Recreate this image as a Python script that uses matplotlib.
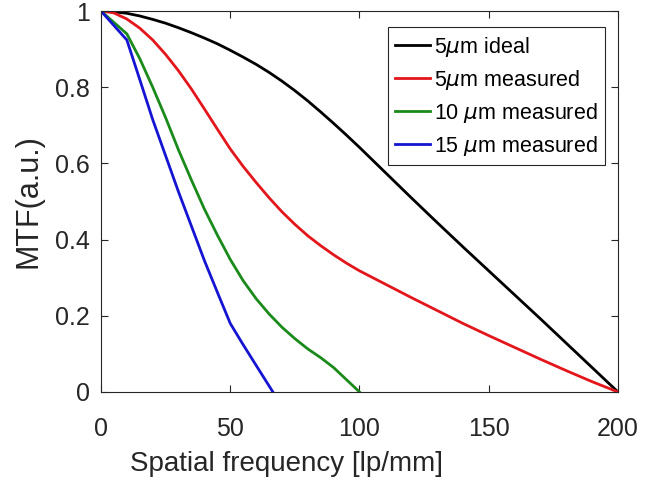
import numpy as np
import matplotlib
matplotlib.use("Agg")
import matplotlib.pyplot as plt

# spatial frequency (lp/mm) and MTF values
freq_ideal = [0, 5, 10, 15, 20, 25, 30, 35, 40, 45, 50, 55, 60, 65, 70, 75,
              80, 85, 90, 95, 100, 110, 120, 130, 140, 150, 160, 170, 180,
              190, 200]
mtf_ideal = [1.0, 0.998, 0.994, 0.987, 0.978, 0.968, 0.956, 0.943, 0.929,
             0.914, 0.897, 0.879, 0.86, 0.839, 0.816, 0.791, 0.764, 0.735,
             0.705, 0.674, 0.642, 0.576, 0.51, 0.445, 0.381, 0.318, 0.255,
             0.192, 0.128, 0.064, 0.0]

freq_5 = [0, 5, 10, 15, 20, 25, 30, 35, 40, 45, 50, 55, 60, 65, 70, 75,
          80, 85, 90, 95, 100, 110, 120, 130, 140, 150, 160, 170, 180, 190, 200]
mtf_5 = [1.0, 0.995, 0.979, 0.955, 0.924, 0.886, 0.843, 0.795, 0.743, 0.69,
         0.638, 0.592, 0.55, 0.51, 0.473, 0.44, 0.41, 0.384, 0.36, 0.338,
         0.318, 0.283, 0.248, 0.214, 0.18, 0.148, 0.117, 0.086, 0.056,
         0.027, 0.0]

freq_10 = [0, 10, 15, 20, 25, 30, 35, 40, 45, 50, 55, 60, 65, 70, 75, 80,
           85, 90, 95, 100]
mtf_10 = [1.0, 0.94, 0.875, 0.80, 0.72, 0.635, 0.556, 0.48, 0.412, 0.348,
          0.292, 0.245, 0.205, 0.17, 0.14, 0.113, 0.09, 0.064, 0.032, 0.0]

freq_15 = [0, 10, 15, 20, 25, 30, 35, 40, 45, 50, 55, 60, 66.5]
mtf_15 = [1.0, 0.924, 0.82, 0.715, 0.62, 0.525, 0.435, 0.345, 0.262, 0.18,
          0.124, 0.07, 0.0]

labels = [r"5$\mu$m ideal", r"5$\mu$m measured",
          r"10 $\mu$m measured", r"15 $\mu$m measured"]

plt.rcParams['font.family'] = ['Liberation Sans', 'DejaVu Sans']
plt.rcParams['mathtext.fontset'] = 'dejavusans'

fig = plt.figure(figsize=(6.58, 4.92), dpi=100)
ax = fig.add_axes([0.1535, 0.2033, 0.7857, 0.7743])

ax.plot(freq_ideal, mtf_ideal, color='black', lw=2, label=labels[0])
ax.plot(freq_5, mtf_5, color='#e3161c', lw=2, label=labels[1])
ax.plot(freq_10, mtf_10, color='#1a8a1a', lw=2, label=labels[2])
ax.plot(freq_15, mtf_15, color='#1414d2', lw=2, label=labels[3])

ax.set_xlim(0, 200)
ax.set_ylim(0, 1)
ax.set_xticks([0, 50, 100, 150, 200])
ax.set_yticks([0, 0.2, 0.4, 0.6, 0.8, 1])
ax.set_yticklabels(['0', '0.2', '0.4', '0.6', '0.8', '1'])
ax.tick_params(direction='in', top=True, right=True, labelsize=18,
               length=5, width=0.8, colors='#262626')
ax.tick_params(axis='x', pad=18)
ax.tick_params(axis='y', pad=8)
for s in ax.spines.values():
    s.set_linewidth(0.8)
    s.set_color('#262626')

ax.set_xlabel('Spatial frequency [lp/mm]', fontsize=20, color='#262626')
ax.xaxis.set_label_coords(0.358, -0.155)
ax.set_ylabel('MTF(a.u.)', fontsize=22, color='#262626')
ax.yaxis.set_label_coords(-0.112, 0.5)

leg = ax.legend(loc='upper right', bbox_to_anchor=(0.975, 0.958),
                borderaxespad=0, handlelength=1.6, handletextpad=0.2,
                borderpad=0.35, labelspacing=0.42, fancybox=False,
                framealpha=1, edgecolor='#262626', fontsize=15.5)
leg.get_frame().set_linewidth(0.8)

fig.savefig('out.png', dpi=100)
